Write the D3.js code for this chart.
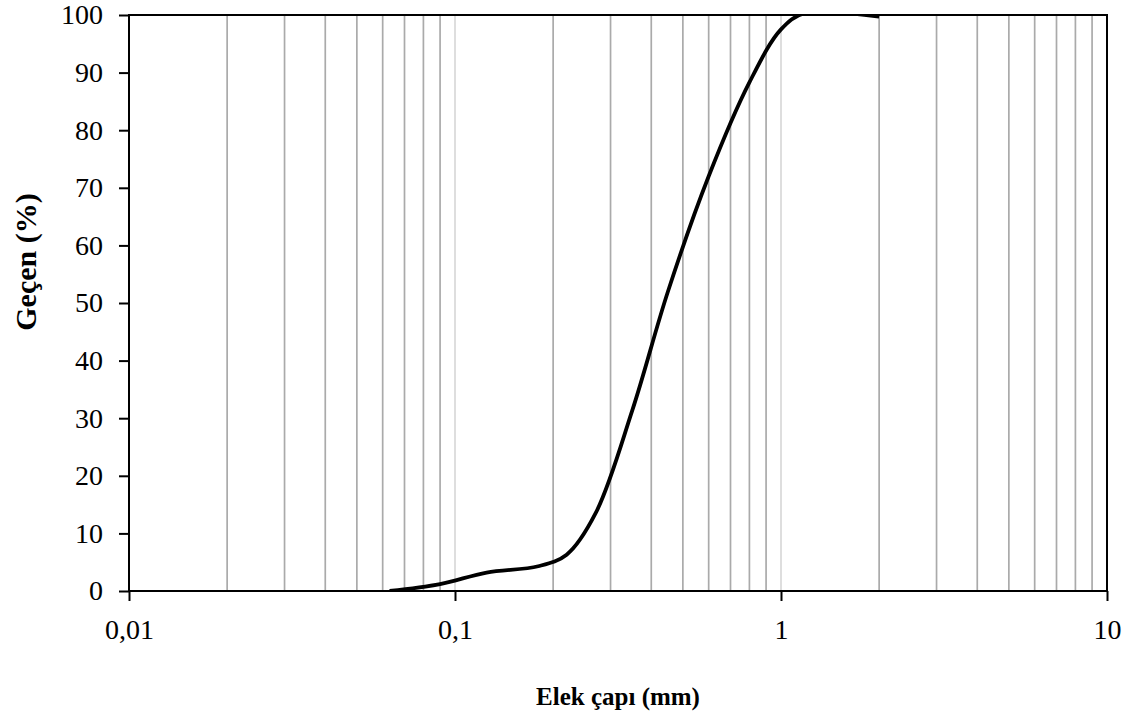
<!DOCTYPE html>
<html>
<head>
<meta charset="utf-8">
<script src="https://cdn.jsdelivr.net/npm/d3@7"></script>
<style>
   body { margin: 0; background: #fff; }
   text { font-family: "Liberation Serif", "Times New Roman", serif; fill: #000; }
</style>
</head>
<body>
<div id="sieve-plot"></div>
<script>
// Sieve sizes (mm) and percent passing
var sieveSizes = [0.063, 0.09, 0.125, 0.18, 0.22, 0.27, 0.35, 0.45, 0.6, 0.8, 1, 1.18, 2];
var passing = [0, 1.2, 3.2, 4.3, 6.3, 13.5, 31.4, 52, 72, 88.3, 97.5, 100.3, 99.7];

var xTickValues = [0.01, 0.1, 1, 10];
var xTickLabels = ["0,01", "0,1", "1", "10"];
var yTickValues = [0, 10, 20, 30, 40, 50, 60, 70, 80, 90, 100];

var width = 1140, height = 718;
var margin = { top: 15, right: 33, bottom: 127, left: 129 };
var plot_width = width - margin.left - margin.right;
var plot_height = height - margin.top - margin.bottom;

var data = sieveSizes.map(function (d, i) { return { size: d, pass: passing[i] }; });

var svg = d3.select("#sieve-plot")
   .append("svg")
   .attr("width", width)
   .attr("height", height);

var g = svg.append("g")
   .attr("transform", `translate(${margin.left}, ${margin.top})`);

// Scales
var x = d3.scaleLog()
   .domain([0.01, 10])
   .range([0, plot_width]);

var y = d3.scaleLinear()
   .domain([0, 100])
   .range([plot_height, 0]);

// Minor vertical gridlines (2..9 in each decade), decade lines a bit lighter
var gridValues = [];
[0.01, 0.1, 1].forEach(function (base) {
   for (var k = 2; k <= 10; k++) gridValues.push(base * k);
});
gridValues = gridValues.filter(function (v) { return v < 9.99; });

g.selectAll(".grid")
   .data(gridValues)
   .enter().append("line")
   .attr("class", "grid")
   .attr("x1", function (d) { return x(d); })
   .attr("x2", function (d) { return x(d); })
   .attr("y1", 0)
   .attr("y2", plot_height)
   .style("stroke", function (d) {
      var l = Math.log10(d);
      return Math.abs(l - Math.round(l)) < 1e-6 ? "#d9d9d9" : "#aaaaaa";
   })
   .style("stroke-width", 1.7);

// Clip for the curve so the overshoot above 100 is hidden
svg.append("defs").append("clipPath")
   .attr("id", "plot-clip")
   .append("rect")
   .attr("width", plot_width)
   .attr("height", plot_height);

var line = d3.line()
   .x(function (d) { return x(d.size); })
   .y(function (d) { return y(d.pass); })
   .curve(d3.curveCatmullRom.alpha(0.5));

g.append("path")
   .datum(data)
   .attr("clip-path", "url(#plot-clip)")
   .attr("d", line)
   .style("fill", "none")
   .style("stroke", "#000")
   .style("stroke-width", 3.8)
   .style("stroke-linejoin", "round");

// Plot border
g.append("rect")
   .attr("width", plot_width)
   .attr("height", plot_height)
   .style("fill", "none")
   .style("stroke", "#000")
   .style("stroke-width", 2);

// Y axis
var yAxis = d3.axisLeft(y)
   .tickValues(yTickValues)
   .tickSize(10)
   .tickPadding(16)
   .tickFormat(d3.format("d"));
var yg = g.append("g").call(yAxis);
yg.select(".domain").remove();
yg.selectAll("line").style("stroke", "#000").style("stroke-width", 2);
yg.selectAll("text").style("font-size", "28px").style("font-family", "Liberation Serif");

// X axis
var xAxis = d3.axisBottom(x)
   .tickValues(xTickValues)
   .tickSize(10)
   .tickPadding(18)
   .tickFormat(function (d, i) { return xTickLabels[i]; });
var xg = g.append("g")
   .attr("transform", `translate(0, ${plot_height})`)
   .call(xAxis);
xg.select(".domain").remove();
xg.selectAll("line").style("stroke", "#000").style("stroke-width", 2);
xg.selectAll("text").style("font-size", "28px").style("font-family", "Liberation Serif");

// Axis titles
svg.append("text")
   .attr("x", margin.left + plot_width / 2)
   .attr("y", 705)
   .attr("text-anchor", "middle")
   .style("font-size", "25px")
   .style("font-weight", "bold")
   .text("Elek çapı (mm)");

svg.append("text")
   .attr("transform", "translate(36, 262) rotate(-90)")
   .attr("text-anchor", "middle")
   .style("font-size", "30px")
   .style("font-weight", "bold")
   .text("Geçen (%)");
</script>
</body>
</html>
